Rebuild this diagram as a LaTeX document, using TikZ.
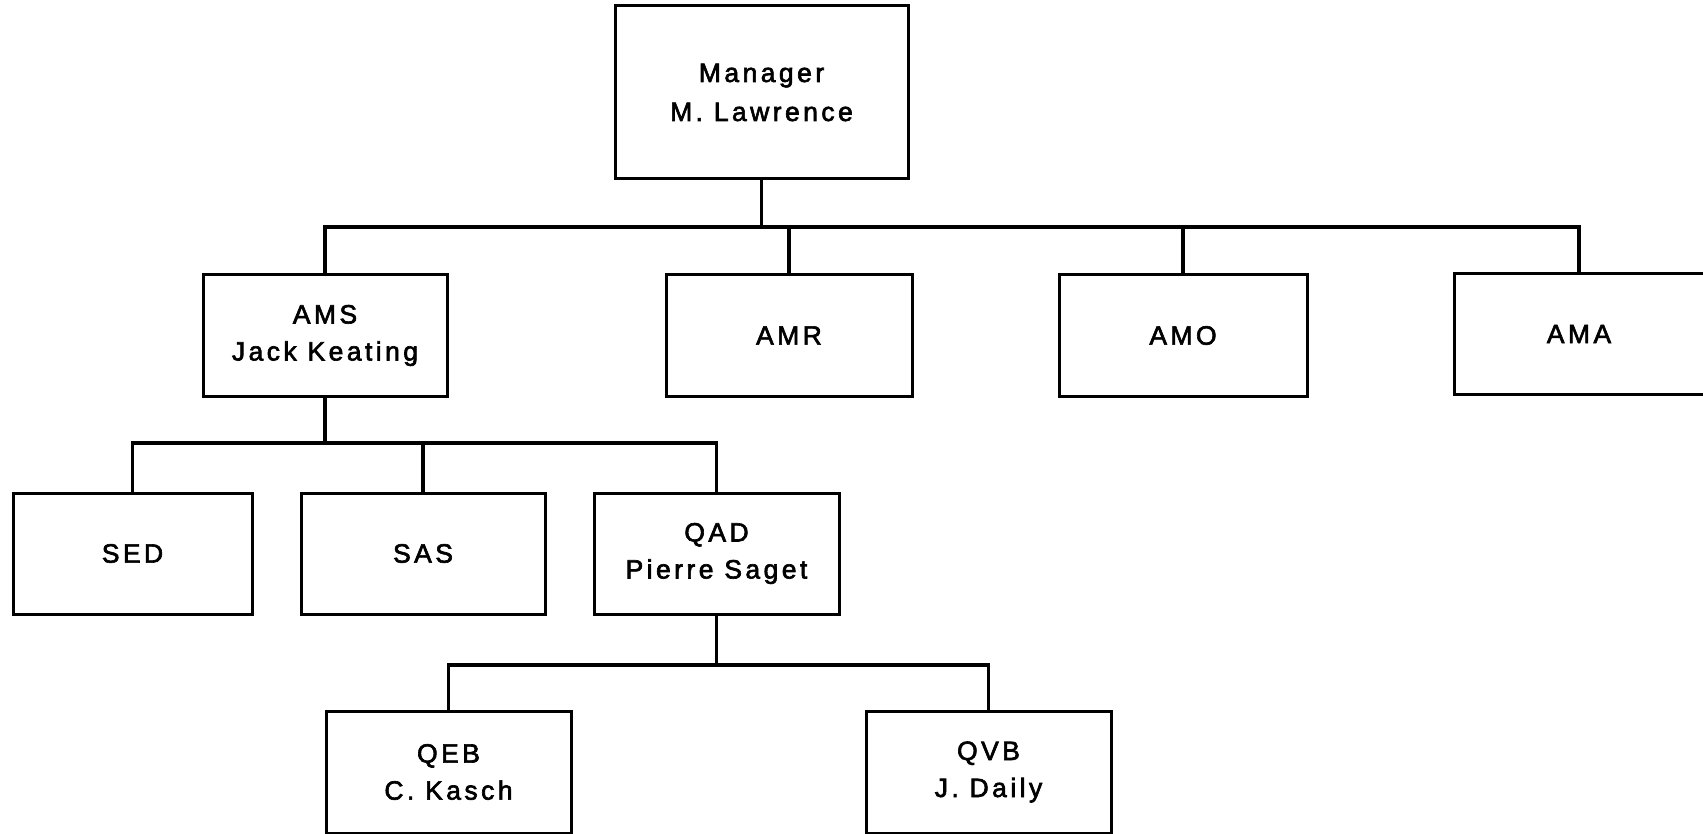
\documentclass[tikz,border=0pt]{standalone}
\usepackage{fontspec}
\newfontfamily\orgfont{Liberation Sans}[LetterSpace=13, FakeBold=2.4]
\begin{document}
\begin{tikzpicture}[x=1pt,y=-1pt,
  unit/.style={draw, line width=3pt, inner sep=0pt, align=center,
    minimum height=121pt, font=\orgfont\fontsize{26.5pt}{37pt}\selectfont},
  link/.style={line width=3.3pt}]
\useasboundingbox (0,0) rectangle (1703,834);

% top level
\node[unit, minimum width=293pt, minimum height=173pt,
  font=\orgfont\fontsize{26.5pt}{39pt}\selectfont] (mgr) at (761.5,92.5) {Manager\\M. Lawrence};

% second level
\node[unit, minimum width=244pt] (ams) at (325,335.5) {AMS\\Jack Keating};
\node[unit, minimum width=246pt] (amr) at (789,335.5) {AMR};
\node[unit, minimum width=248pt] (amo) at (1183,335.5) {AMO};
\node[unit, minimum width=250pt] (ama) at (1579,334) {AMA};

% third level
\node[unit, minimum width=239pt] (sed) at (132.5,553.5) {SED};
\node[unit, minimum width=244pt] (sas) at (423,553.5) {SAS};
\node[unit, minimum width=245pt] (qad) at (716.5,553.5) {QAD\\Pierre Saget};

% fourth level
\node[unit, minimum width=245pt, minimum height=122pt] (qeb) at (448.5,772) {QEB\\C. Kasch};
\node[unit, minimum width=245pt, minimum height=122pt] (qvb) at (988.5,772) {QVB\\J. Daily};

% bus lines
\coordinate (b1) at (763,227);
\coordinate (b2) at (325,443);
\coordinate (b3) at (716,665);

\draw[link] (mgr.south) -- (mgr.south |- b1);
\draw[link] (ams.north) -- (ams.north |- b1) -- (ama.north |- b1) -- (ama.north);
\draw[link] (amr.north) -- (amr.north |- b1);
\draw[link] (amo.north) -- (amo.north |- b1);

\draw[link] (ams.south) -- (ams.south |- b2);
\draw[link] (sed.north) -- (sed.north |- b2) -- (qad.north |- b2) -- (qad.north);
\draw[link] (sas.north) -- (sas.north |- b2);

\draw[link] (qad.south) -- (qad.south |- b3);
\draw[link] (qeb.north) -- (qeb.north |- b3) -- (qvb.north |- b3) -- (qvb.north);
\end{tikzpicture}
\end{document}
